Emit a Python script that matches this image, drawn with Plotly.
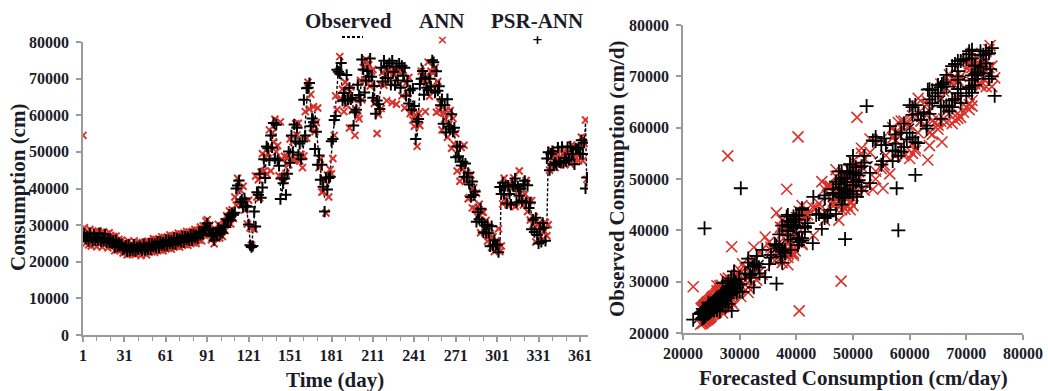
import plotly.graph_objects as go

W, H = 1048, 391

days = list(range(1, 367))

observed = [
    27900, 26800, 27200, 26000, 26500, 27000, 25800, 26300, 26900, 26400,
    25900, 26600, 27100, 26200, 25700, 26400, 26800, 25900, 25500, 26100,
    25400, 25800, 25100, 24700, 25300, 24800, 24400, 24900, 24200, 23900,
    24300, 23700, 23400, 24000, 23600, 23200, 23800, 24100, 23500, 23300,
    23900, 23600, 23100, 23700, 24200, 23800, 23400, 24000, 24400, 23900,
    24300, 24700, 24100, 24500, 24900, 24400, 24800, 25200, 24600, 25000,
    25400, 24900, 25300, 25700, 25100, 25500, 25900, 25400, 25800, 26200,
    25600, 26000, 26400, 25900, 26300, 26700, 26100, 26500, 26900, 26400,
    26800, 27200, 26600, 27000, 27500, 27900, 27300, 28200, 28800, 29500,
    29900, 29200, 28400, 27600, 27000, 26500, 27300, 28000, 28600, 28100,
    27700, 28500, 29300, 30100, 31000, 31800, 32300, 31900, 32600, 33400,
    35200, 38500, 41500, 39800, 37600, 36500, 37200, 36200, 35500, 33000,
    28600, 26000, 23500, 28600, 31500, 36500, 38500, 40200, 41000, 42900,
    44500, 46500, 45500, 48000, 50500, 51500, 50000, 53000, 55500, 57700,
    54000, 49500, 45000, 40300, 38300, 42000, 45500, 48600, 46000, 48500,
    50000, 52000, 51000, 53500, 55000, 55800, 53000, 50500, 48500, 49500,
    52400, 58000, 63200, 68500, 66000, 61500, 58500, 60500, 61000, 57000,
    50700, 47500, 45000, 43000, 40000, 37500, 38500, 41500, 40500, 44000,
    49500, 55300, 57500, 63000, 68000, 72500, 74200, 70500, 66000, 64500,
    67000, 68500, 65500, 63500, 66500, 64000, 61000, 59000, 62000, 65000,
    63500, 67500, 71000, 73500, 75000, 74000, 71500, 73000, 74500, 72000,
    69000, 66500, 63000, 60500, 62500, 65500, 68500, 71000, 72500, 71000,
    70000, 72000, 73000, 71500, 70500, 72500, 71000, 69500, 71500, 72500,
    70500, 71000, 72000, 69000, 67500, 68500, 67000, 65000, 62000, 64000,
    60500, 57000, 54000, 60000, 65700, 74500, 71500, 68000, 66500, 69000,
    71000, 68500, 70500, 73500, 74000, 70000, 67500, 68500, 65500, 63500,
    61000, 59500, 61500, 58500, 60000, 57500, 59000, 56500, 57500, 55000,
    51500, 49000, 50000, 47500, 48500, 46500, 47000, 45000, 43500, 41000,
    39500, 40500, 38500, 39000, 37000, 34500, 33000, 33500, 31500, 32000,
    30500, 29000, 29500, 28000, 27500, 26500, 27000, 25500, 24500, 25000,
    23500, 21800, 23800, 40500, 39000, 41000, 38500, 37500, 39500, 40500,
    38000, 39000, 41500, 39500, 38000, 40000, 41000, 38500, 37000, 38500,
    40500, 39000, 37500, 35500, 34000, 32500, 31000, 30000, 29000, 28500,
    27500, 28000, 27000, 28500, 29000, 28000, 30200, 47900, 48000, 47000,
    48500, 47500, 46500, 48000, 49000, 47500, 48500, 49500, 48000, 47500,
    49000, 50000, 48500, 49500, 50500, 49000, 48500, 50000, 51000, 49500,
    50500, 52000, 50000, 51500, 58000, 40000,
]

ann = [
    54500, 29300, 25100, 28200, 24600, 28800, 24300, 27900, 25000, 28300,
    24100, 28400, 25300, 28000, 24000, 28100, 25000, 27600, 23800, 27900,
    27200, 24100, 26900, 23000, 27000, 23200, 26100, 23200, 25900, 22400,
    22600, 25300, 21900, 25600, 22100, 24800, 22300, 25700, 22000, 24900,
    22300, 25200, 21700, 25300, 22600, 25400, 21900, 25600, 22800, 25500,
    22700, 26300, 22600, 26100, 23300, 26000, 23200, 26800, 23000, 26600,
    23800, 26500, 23700, 27300, 23500, 27100, 24300, 27000, 24200, 27800,
    24000, 27600, 24800, 27500, 24700, 28300, 24500, 28100, 25300, 28000,
    25200, 28800, 25000, 28600, 25900, 29500, 25700, 29800, 27200, 31100,
    31500, 27600, 30000, 26000, 28600, 24900, 28900, 26400, 30200, 26500,
    29300, 26900, 30900, 28500, 32600, 30200, 33900, 30300, 34200, 31800,
    37700, 35500, 42800, 36000, 39500, 35700, 40600, 34100, 36100, 30300,
    36800, 29200, 24500, 29800, 28900, 43400, 37700, 42400, 37400, 44500,
    49500, 44700, 48500, 44000, 49700, 56000, 44800, 55200, 52700, 58900,
    50000, 51700, 43500, 58200, 48000, 43000, 48800, 44100, 48600, 46500,
    53500, 47800, 52800, 48000, 57700, 54600, 57800, 47500, 49300, 45700,
    48900, 61000, 53700, 69000, 61700, 65700, 56500, 62300, 55500, 58000,
    62000, 45700, 48000, 39000, 39200, 42000, 33300, 43700, 37700, 45200,
    44000, 48200, 54500, 65300, 61500, 72000, 76000, 64500, 67100, 61000,
    69000, 62800, 65800, 56500, 67700, 61300, 64300, 54500, 61300, 59700,
    59000, 69500, 64200, 73000, 69700, 75200, 68500, 73800, 68000, 72000,
    72500, 63200, 64500, 55000, 60200, 68500, 61800, 71700, 68200, 70700,
    64000, 72200, 69500, 73300, 63500, 71500, 72300, 63000, 72100, 68500,
    72500, 65300, 72300, 62000, 68700, 65800, 70300, 60500, 61300, 58700,
    57000, 60000, 51500, 60500, 57200, 72000, 69500, 69800, 61000, 70000,
    74500, 65200, 72000, 68000, 71700, 73000, 60800, 69200, 61200, 63200,
    56000, 60700, 59000, 61300, 54000, 57500, 61300, 51000, 59100, 52000,
    55000, 44800, 51800, 42000, 51200, 45300, 51800, 42000, 44300, 37200,
    37500, 43700, 34700, 40200, 34400, 38700, 32200, 35700, 27900, 33600,
    33500, 27900, 31300, 25600, 27000, 29200, 23900, 26800, 22800, 25700,
    25000, 29000, 22800, 24300, 35800, 42800, 37300, 40500, 35500, 41300,
    40800, 35600, 42900, 35100, 40200, 39000, 44800, 36100, 37600, 35500,
    38500, 42200, 33700, 36700, 31400, 36700, 30200, 32200, 25400, 30100,
    30500, 26900, 28800, 26100, 28500, 30700, 27100, 30100, 45000, 50500,
    46500, 48600, 45700, 49900, 46500, 48000, 50200, 47200, 49300, 46500,
    50800, 47900, 49400, 46700, 51900, 48400, 50900, 48500, 51400, 47600,
    49300, 54000, 47600, 52300, 58700, 42500,
]

psr_ann = [
    26800, 27600, 26300, 26900, 25700, 27800, 26500, 25600, 27500, 25800,
    26600, 25900, 27800, 25500, 26400, 25700, 27500, 25300, 26200, 25400,
    26000, 25100, 25800, 24000, 25900, 24200, 25100, 24300, 24800, 23300,
    23700, 24400, 22800, 24600, 23000, 23900, 23200, 24700, 22900, 24000,
    23300, 24300, 23700, 23100, 24800, 23200, 24000, 23400, 25000, 23300,
    24900, 24100, 24800, 23900, 25500, 23800, 25400, 24600, 25200, 24400,
    26000, 24300, 25900, 25100, 25700, 24900, 26500, 24800, 26400, 25600,
    26200, 25400, 27000, 25300, 26900, 26100, 26700, 25900, 27500, 25800,
    27400, 26600, 27200, 26400, 28100, 27300, 27900, 27600, 29400, 28900,
    30500, 28600, 29000, 27000, 27600, 25900, 27900, 27400, 29200, 27500,
    28300, 27900, 29900, 29500, 31600, 31200, 32900, 31300, 33200, 32800,
    33400, 40000, 40800, 42200, 36300, 37000, 34900, 37300, 35200, 35000,
    30200, 24500, 24000, 24300, 33700, 29600, 39000, 38300, 44000, 37500,
    40300, 48000, 42900, 51500, 51000, 47700, 54500, 51200, 57900, 48200,
    57400, 47700, 46200, 37100, 42700, 41400, 42700, 38300, 44000, 50100,
    47000, 54500, 49800, 57500, 52800, 56600, 49200, 52300, 48000, 52800,
    64200, 54500, 67400, 67500, 68800, 57000, 59100, 58100, 50800, 55500,
    46500, 49000, 42400, 46500, 40500, 33700, 43000, 39700, 42900, 43200,
    52900, 53500, 58700, 59800, 72400, 71900, 71400, 74300, 64000, 66100,
    64000, 71000, 64300, 67500, 64300, 64800, 57200, 60800, 61500, 68300,
    65500, 64000, 75200, 72500, 66200, 69500, 72100, 70600, 75500, 70500,
    64800, 68000, 60400, 64000, 63000, 61700, 73000, 69200, 74900, 70200,
    73400, 70200, 74200, 68300, 74900, 71900, 68200, 73300, 69500, 74100,
    67500, 73500, 70800, 73000, 65300, 69300, 63200, 66800, 61500, 67300,
    62500, 53500, 58200, 59000, 68500, 70000, 72100, 65600, 70300, 67500,
    66800, 70000, 67900, 75000, 74500, 66200, 72000, 66700, 67900, 62700,
    64400, 57700, 62700, 55300, 64400, 56900, 56200, 60300, 55500, 56600,
    48500, 51500, 48800, 51500, 46300, 47300, 43200, 46800, 43000, 44300,
    41100, 37700, 41900, 38200, 39200, 30900, 33500, 31600, 34500, 30800,
    28000, 29900, 27900, 30100, 27800, 24200, 29700, 24400, 25900, 24500,
    24700, 22600, 40400, 38500, 41600, 38500, 40700, 35900, 40800, 38500,
    35600, 41000, 40500, 42700, 36200, 40600, 38000, 39900, 36600, 41100,
    42100, 36200, 40900, 34700, 36200, 28900, 31500, 28100, 32000, 27300,
    25000, 28900, 25400, 30600, 29300, 25700, 48200, 49900, 45000, 49500,
    50200, 46600, 47100, 46400, 51200, 47200, 47100, 51400, 47000, 48300,
    47500, 51300, 47900, 51500, 49400, 49400, 46600, 50900, 50700, 51200,
    49500, 53200, 49400, 52500, 40000, 43000,
]

assert len(observed) == len(ann) == len(psr_ann) == len(days)

RED = "#d8322a"
INK = "#1c1c28"
AXIS = "#9a9a9a"
SERIF = "Liberation Serif"


def px(x):
    return x / W


def py(y):
    return 1 - y / H


fig = go.Figure()

# Time series: observed line, ANN and PSR-ANN forecasts
fig.add_trace(go.Scatter(
    x=days, y=observed, mode="lines", name="Observed",
    line=dict(color="black", width=1.4, dash="3px,2px"),
    xaxis="x", yaxis="y", showlegend=False, hoverinfo="skip"))
fig.add_trace(go.Scatter(
    x=days, y=ann, mode="markers", name="ANN",
    marker=dict(symbol="x-thin", size=7, line=dict(color=RED, width=2)),
    xaxis="x", yaxis="y", showlegend=False))
fig.add_trace(go.Scatter(
    x=days, y=psr_ann, mode="markers", name="PSR-ANN",
    marker=dict(symbol="cross-thin", size=8, line=dict(color="black", width=2)),
    xaxis="x", yaxis="y", showlegend=False))

# Scatter of the two forecasts against the observations
fig.add_trace(go.Scatter(
    x=observed, y=ann, mode="markers", name="ANN",
    marker=dict(symbol="x-thin", size=11, line=dict(color=RED, width=1.6)),
    xaxis="x2", yaxis="y2", showlegend=False))
fig.add_trace(go.Scatter(
    x=observed, y=psr_ann, mode="markers", name="PSR-ANN",
    marker=dict(symbol="cross-thin", size=10, line=dict(color="black", width=1.8)),
    xaxis="x2", yaxis="y2", showlegend=False))
lo, hi = min(observed), max(observed)
fig.add_trace(go.Scatter(
    x=[lo, hi], y=[lo, hi], mode="lines",
    line=dict(color="black", width=1.4, dash="4px,3px"),
    xaxis="x2", yaxis="y2", showlegend=False, hoverinfo="skip"))

tickfont = dict(family=SERIF, size=16, color=INK, weight="bold")
axis_common = dict(
    showgrid=False, zeroline=False, showline=True, linecolor=AXIS, linewidth=1.5,
    ticks="outside", tickcolor=AXIS, ticklen=5, tickwidth=1.5,
    tickfont=tickfont, tickformat="d", automargin=False, fixedrange=True)

fig.update_layout(
    width=W, height=H, autosize=False,
    margin=dict(l=0, r=0, t=0, b=0, pad=0),
    paper_bgcolor="white", plot_bgcolor="white",
    xaxis=dict(axis_common, domain=[px(83), px(588)], range=[1, 366.8],
               tick0=1, dtick=30, anchor="y",
               minor=dict(tick0=1, dtick=10, ticks="outside", ticklen=4,
                          tickcolor=AXIS, tickwidth=1.2)),
    yaxis=dict(axis_common, domain=[py(335), py(42)], range=[0, 80000],
               dtick=10000, anchor="x", ticklabelstandoff=4),
    xaxis2=dict(axis_common, domain=[px(683), px(1023)], range=[20000, 80000],
                dtick=10000, anchor="y2"),
    yaxis2=dict(axis_common, domain=[py(333), py(25)], range=[20000, 80000],
                dtick=10000, anchor="x2", ticklabelstandoff=4),
)

title_font = dict(family=SERIF, size=21, color=INK, weight="bold")
annotations = [
    dict(text="Consumption (cm)", x=px(18), y=py(188), textangle=-90),
    dict(text="Time (day)", x=px(335), y=py(380)),
    dict(text="Observed Consumption (cm/d)", x=px(617), y=py(179), textangle=-90),
    dict(text="Forecasted Consumption (cm/day)", x=px(853), y=py(378)),
    dict(text="Observed", x=px(348), y=py(21)),
    dict(text="ANN", x=px(442), y=py(21)),
    dict(text="PSR-ANN", x=px(537), y=py(21)),
]
for a in annotations:
    fig.add_annotation(xref="paper", yref="paper", showarrow=False,
                       xanchor="center", yanchor="middle", font=title_font, **a)

# Legend sample glyphs under the series names
fig.add_annotation(xref="paper", yref="paper", showarrow=False, x=px(442), y=py(39),
                   xanchor="center", yanchor="middle", text="×",
                   font=dict(family="DejaVu Sans", size=13, color=RED, weight="bold"))
fig.add_annotation(xref="paper", yref="paper", showarrow=False, x=px(537), y=py(40),
                   xanchor="center", yanchor="middle", text="+",
                   font=dict(family="DejaVu Sans", size=13, color="black", weight="bold"))
fig.add_shape(type="line", xref="paper", yref="paper",
              x0=px(342), x1=px(363), y0=py(37), y1=py(37),
              line=dict(color="black", width=2, dash="3px,2px"))

fig.write_html("out.html")
